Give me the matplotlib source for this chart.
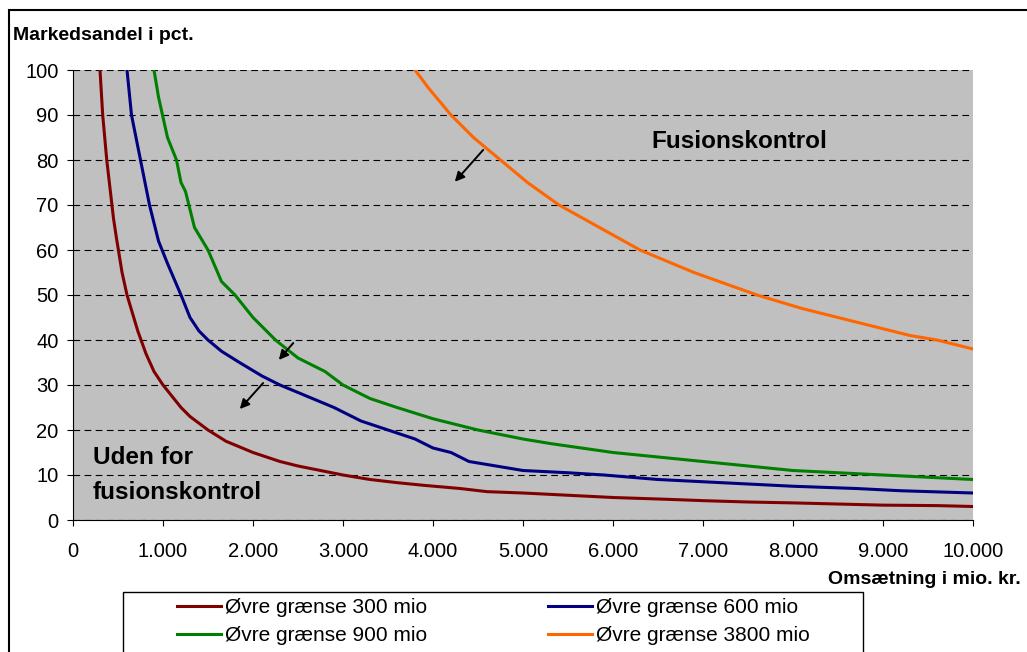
import matplotlib
matplotlib.use("Agg")
import matplotlib.pyplot as plt
from matplotlib.ticker import FuncFormatter
from matplotlib.patches import Rectangle

plt.rcParams["font.family"] = ["Liberation Sans", "DejaVu Sans"]

# Grænsekurver (omsætning i mio. kr., markedsandel i pct.)
x_300 = [300, 330, 375, 450, 480, 545, 600, 720, 810, 900, 1000, 1200, 1300, 1500, 1700,
         2000, 2300, 2500, 3000, 3300, 3600, 3900, 4300, 4600, 5000, 5500, 6000, 6600,
         7000, 7500, 8000, 8600, 9000, 9600, 10000]
y_300 = [100, 90, 80, 67, 63, 55, 50, 42, 37, 33, 30, 25, 23, 20, 17.5,
         15, 13, 12, 10, 9, 8.3, 7.7, 7, 6.3, 6, 5.5, 5, 4.6,
         4.3, 4, 3.8, 3.5, 3.3, 3.2, 3]

x_600 = [600, 650, 750, 850, 950, 1050, 1200, 1300, 1400, 1500, 1650, 1850, 2100, 2300,
         2600, 2900, 3200, 3500, 3800, 4000, 4200, 4400, 4700, 5000, 5500, 5900, 6500,
         7000, 7500, 8000, 8700, 9200, 10000]
y_600 = [100, 90, 80, 70, 62, 57, 50, 45, 42, 40, 37.5, 35, 32, 30,
         27.5, 25, 22, 20, 18, 16, 15, 13, 12, 11, 10.5, 10, 9,
         8.5, 8, 7.5, 7, 6.5, 6]

x_900 = [900, 950, 1050, 1150, 1200, 1250, 1300, 1350, 1500, 1650, 1800, 2000, 2250, 2500,
         2800, 3000, 3300, 3600, 4000, 4500, 5000, 5300, 6000, 6500, 7000, 7500, 8000,
         8500, 9000, 9500, 10000]
y_900 = [100, 94, 85, 80, 75, 73, 69, 65, 60, 53, 50, 45, 40, 36,
         33, 30, 27, 25, 22.5, 20, 18, 17, 15, 14, 13, 12, 11,
         10.5, 10, 9.5, 9]

x_3800 = [3800, 3950, 4200, 4450, 4750, 5050, 5400, 5850, 6300, 6900, 7600, 8100, 8500,
          8900, 9300, 9600, 10000]
y_3800 = [100, 96, 90, 85, 80, 75, 70, 65, 60, 55, 50, 47, 45, 43, 41, 40, 38]

labels = ["Øvre grænse 300 mio", "Øvre grænse 600 mio",
          "Øvre grænse 900 mio", "Øvre grænse 3800 mio"]
colors = ["#800000", "#000080", "#008000", "#FF6600"]

W, H = 1027, 652
fig = plt.figure(figsize=(W / 100, H / 100), dpi=100)
fig.patch.set_facecolor("white")
# ramme omkring hele figuren
fig.patches.append(Rectangle((9 / W, -0.1), 1.2, 1 - 10 / H + 0.1,
                             transform=fig.transFigure, fill=False,
                             edgecolor="black", linewidth=1.5))

ax = fig.add_axes([73 / W, 1 - 520 / H, 900 / W, 450 / H])
ax.set_facecolor("#C0C0C0")

lines = {}
for xs, ys, c, lab in zip([x_300, x_600, x_900, x_3800],
                          [y_300, y_600, y_900, y_3800],
                          colors, labels):
    l, = ax.plot(xs, ys, color=c, linewidth=2.2, label=lab)
    lines[lab] = l

ax.set_xlim(0, 10000)
ax.set_ylim(0, 100)
ax.set_xticks(range(0, 10001, 1000))
ax.set_yticks(range(0, 101, 10))
ax.xaxis.set_major_formatter(FuncFormatter(lambda v, p: f"{int(v):,}".replace(",", ".")))
ax.grid(axis="y", color="black", linestyle=(0, (6, 4)), linewidth=0.8)
ax.tick_params(labelsize=14.5, length=4.5, direction="out")
ax.tick_params(axis="x", pad=11)
ax.tick_params(axis="y", pad=6)
for s in ["top", "right"]:
    ax.spines[s].set_visible(False)

fig.text(13 / W, 1 - 35 / H, "Markedsandel i pct.", fontsize=14,
         fontweight="bold", va="center", ha="left")
fig.text(1021 / W, 1 - 579 / H, "Omsætning i mio. kr.", fontsize=14,
         fontweight="bold", va="center", ha="right")

ax.text(7400, 84, "Fusionskontrol", fontsize=17.5, fontweight="bold",
        ha="center", va="center")
ax.text(222, 13.8, "Uden for", fontsize=17.5, fontweight="bold",
        ha="left", va="center")
ax.text(222, 6.2, "fusionskontrol", fontsize=17.5, fontweight="bold",
        ha="left", va="center")

arrows = [((4578, 82.7), (4222, 74.7)),
          ((2467, 39.8), (2267, 35.1)),
          ((2133, 30.9), (1833, 24.2))]
for start, end in arrows:
    ax.annotate("", xy=end, xytext=start,
                arrowprops=dict(arrowstyle="-|>", color="black", lw=1.4,
                                mutation_scale=14))

# ramme om legenden
fig.patches.append(Rectangle((123 / W, -0.1), (863 - 123) / W, 1 - 592 / H + 0.1,
                             transform=fig.transFigure, fill=True, facecolor="white",
                             edgecolor="black", linewidth=1.0, zorder=1))

# matplotlib fylder kolonnevis: kolonne 1 = 300, 900; kolonne 2 = 600, 3800
order = [labels[0], labels[2], labels[1], labels[3]]
leg = fig.legend([lines[k] for k in order], order, ncol=2, loc="upper left",
                 bbox_to_anchor=(177 / W, 1 - 598 / H),
                 fontsize=15, frameon=False, handlelength=2.1,
                 handletextpad=0.2, columnspacing=5.8, borderpad=0,
                 labelspacing=0.45, borderaxespad=0)
leg.set_zorder(3)

fig.savefig("out.png", dpi=100)
